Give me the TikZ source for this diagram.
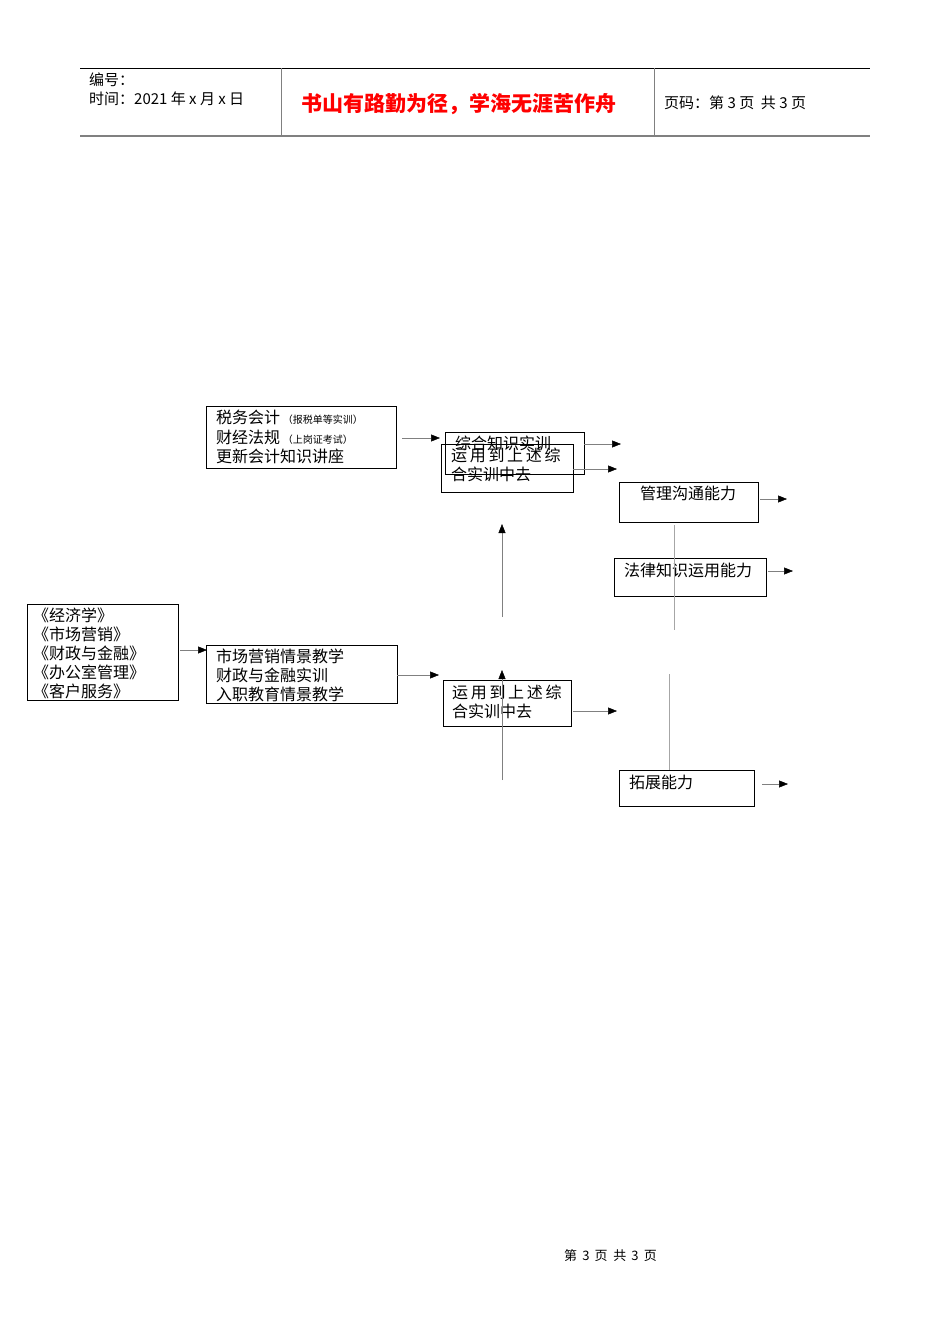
\documentclass[tikz,border=0pt]{standalone}
\usepackage{fontspec}
\setmainfont{Noto Sans CJK SC}
\usetikzlibrary{arrows.meta}
\begin{document}
\begin{tikzpicture}[x=1pt,y=-1pt,
  bx/.style={draw,line width=0.8pt},
  txt/.style={anchor=west,inner sep=0pt,font=\fontsize{16}{16}\selectfont},
  ar/.style={draw=gray,line width=0.5pt,-{Triangle[length=9pt,width=7pt,fill=black,color=black]}},
  ln/.style={draw=gray!70,line width=0.5pt}]
\useasboundingbox (0,0) rectangle (950,1344);
\fill[white] (0,0) rectangle (950,1344);
% header
\draw[line width=0.8pt] (80,68) -- (870,68);
\draw[gray,line width=1.3pt] (80,136) -- (870,136);
\draw[gray] (281,68) -- (281,136) (654,68) -- (654,136);
\node[txt,font=\fontsize{15}{15}\selectfont] (h1) at (89,80) {编号：};
\node[txt,font=\fontsize{15}{15}\selectfont] (h2) at (89,99) {时间：2021 年 x 月 x 日};
\node[txt,text=red,font=\fontsize{21}{21}\selectfont\bfseries] (h3) at (301,104) {书山有路勤为径，学海无涯苦作舟};
\node[txt,font=\fontsize{15}{15}\selectfont] (h4) at (664,103) {页码：第 3 页 \ 共 3 页};
% boxes
\draw[bx] (206,406) rectangle (396,468);
\node[txt] (a1) at (216,417) {税务会计\,{\fontsize{10}{10}\selectfont（报税单等实训）}};
\node[txt] (a2) at (216,437) {财经法规\,{\fontsize{10}{10}\selectfont（上岗证考试）}};
\node[txt] (a3) at (216,456) {更新会计知识讲座};
\coordinate (aR) at (402,438); \coordinate (aT) at (440,438);
\draw[ar] (aR) -- (aT);
\draw[bx] (445,432) rectangle (584,474);
\node[txt] (b1) at (455,443) {综合知识实训};
\draw[bx] (441,444) rectangle (573,492);
\node[txt] (c1) at (451,455) {运\,用\,到\,上\,述\,综};
\node[txt] (c2) at (451,474) {合实训中去};
\coordinate (b0) at (584,444); \coordinate (b9) at (621,444);
\draw[ar] (b0) -- (b9);
\coordinate (c0) at (573,469); \coordinate (c9) at (617,469);
\draw[ar] (c0) -- (c9);
\draw[bx] (619,482) rectangle (758,522);
\node[txt] (m1) at (640,493) {管理沟通能力};
\coordinate (m0) at (760,499); \coordinate (m9) at (787,499);
\draw[ar] (m0) -- (m9);
\draw[bx] (614,558) rectangle (766,596);
\node[txt] (f1) at (624,570) {法律知识运用能力};
\coordinate (f0) at (768,571); \coordinate (f9) at (793,571);
\draw[ar] (f0) -- (f9);
\coordinate (v1) at (674,525); \coordinate (v2) at (674,630);
\draw[ln] (v1) -- (v2);
\coordinate (v3) at (669,674); \coordinate (v4) at (669,770);
\draw[ln] (v3) -- (v4);
\coordinate (u0) at (502,617); \coordinate (u9) at (502,524);
\draw[ar] (u0) -- (u9);
\draw[bx] (27,604) rectangle (178,700);
\node[txt] (l1) at (33,615) {《经济学》};
\node[txt] (l2) at (33,634) {《市场营销》};
\node[txt] (l3) at (33,653) {《财政与金融》};
\node[txt] (l4) at (33,672) {《办公室管理》};
\node[txt] (l5) at (33,691) {《客户服务》};
\coordinate (l0) at (180,650); \coordinate (l9) at (207,650);
\draw[ar] (l0) -- (l9);
\draw[bx] (206,645) rectangle (397,703);
\node[txt] (d1) at (216,656) {市场营销情景教学};
\node[txt] (d2) at (216,675) {财政与金融实训};
\node[txt] (d3) at (216,694) {入职教育情景教学};
\coordinate (d0) at (397,675); \coordinate (d9) at (439,675);
\draw[ar] (d0) -- (d9);
\draw[bx] (443,680) rectangle (571,726);
\node[txt] (e1) at (452,692) {运\,用\,到\,上\,述\,综};
\node[txt] (e2) at (452,711) {合实训中去};
\coordinate (e0) at (573,711); \coordinate (e9) at (617,711);
\draw[ar] (e0) -- (e9);
\coordinate (w0) at (502,780); \coordinate (w9) at (502,670);
\draw[ar] (w0) -- (w9);
\draw[bx] (619,770) rectangle (754,806);
\node[txt] (t1) at (629,782) {拓展能力};
\coordinate (t0) at (762,784); \coordinate (t9) at (788,784);
\draw[ar] (t0) -- (t9);
\node[txt,font=\fontsize{13}{13}\selectfont] (ft) at (564,1256) {第 \,3\, 页 \ 共 \,3\, 页};
\end{tikzpicture}
\end{document}
